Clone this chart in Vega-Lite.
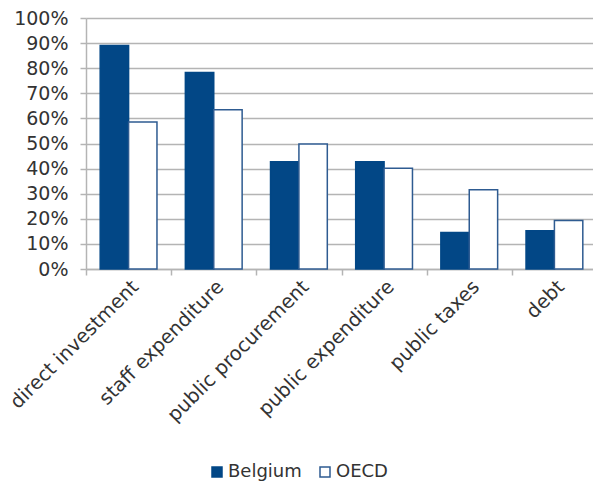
{
  "$schema": "https://vega.github.io/schema/vega-lite/v6.json",
  "autosize": {"type": "none"},
  "padding": {"left": 86, "top": 18, "right": 0, "bottom": 213},
  "width": 511,
  "height": 251,
  "background": "white",
  "data": {
    "values": [
      {"category": "direct investment", "series": "Belgium", "share": 0.89},
      {"category": "direct investment", "series": "OECD", "share": 0.586},
      {"category": "staff expenditure", "series": "Belgium", "share": 0.783},
      {"category": "staff expenditure", "series": "OECD", "share": 0.634},
      {"category": "public procurement", "series": "Belgium", "share": 0.427},
      {"category": "public procurement", "series": "OECD", "share": 0.498},
      {"category": "public expenditure", "series": "Belgium", "share": 0.427},
      {"category": "public expenditure", "series": "OECD", "share": 0.401},
      {"category": "public taxes", "series": "Belgium", "share": 0.145},
      {"category": "public taxes", "series": "OECD", "share": 0.316},
      {"category": "debt", "series": "Belgium", "share": 0.152},
      {"category": "debt", "series": "OECD", "share": 0.193}
    ]
  },
  "mark": {"type": "bar", "strokeWidth": 1.5},
  "encoding": {
    "x": {
      "field": "category",
      "type": "nominal",
      "sort": null,
      "scale": {"paddingInner": 0, "paddingOuter": 0},
      "axis": {
        "title": null,
        "labelAngle": -45,
        "labelAlign": "right",
        "labelBaseline": "top",
        "labelFontSize": 19.5,
        "labelLimit": 400,
        "tickBand": "extent",
        "tickSize": 6,
        "labelPadding": 2
      }
    },
    "xOffset": {
      "field": "series",
      "type": "nominal",
      "scale": {"paddingInner": 0, "paddingOuter": 0.5}
    },
    "y": {
      "field": "share",
      "type": "quantitative",
      "scale": {"domain": [0, 1], "nice": false},
      "axis": {
        "title": null,
        "format": ".0%",
        "values": [0, 0.1, 0.2, 0.3, 0.4, 0.5, 0.6, 0.7, 0.8, 0.9, 1],
        "labelFontSize": 19,
        "tickSize": 6,
        "labelPadding": 12
      }
    },
    "fill": {
      "field": "series",
      "type": "nominal",
      "scale": {"domain": ["Belgium", "OECD"], "range": ["#024786", "#ffffff"]},
      "legend": {
        "title": null,
        "orient": "none",
        "direction": "horizontal",
        "legendX": 122,
        "legendY": 445,
        "symbolType": "square",
        "symbolSize": 100,
        "symbolStrokeWidth": 1.5,
        "labelOffset": 2,
        "columnPadding": 14
      }
    },
    "stroke": {
      "field": "series",
      "type": "nominal",
      "scale": {"domain": ["Belgium", "OECD"], "range": ["#024786", "#2e5b91"]},
      "legend": {
        "title": null,
        "orient": "none",
        "direction": "horizontal",
        "legendX": 122,
        "legendY": 445,
        "symbolType": "square",
        "symbolSize": 100,
        "symbolStrokeWidth": 1.5,
        "labelOffset": 2,
        "columnPadding": 14
      }
    }
  },
  "config": {
    "font": "DejaVu Sans",
    "view": {"stroke": null},
    "axis": {
      "labelFont": "DejaVu Sans",
      "labelFontSize": 18,
      "labelColor": "#333333",
      "domainColor": "#b4b4b4",
      "domainWidth": 1.5,
      "gridColor": "#b4b4b4",
      "gridWidth": 1.5,
      "tickColor": "#b4b4b4",
      "tickWidth": 1.5
    },
    "axisX": {"grid": false},
    "axisY": {"grid": true},
    "legend": {
      "labelFont": "DejaVu Sans",
      "labelFontSize": 18,
      "labelColor": "#333333"
    }
  }
}
